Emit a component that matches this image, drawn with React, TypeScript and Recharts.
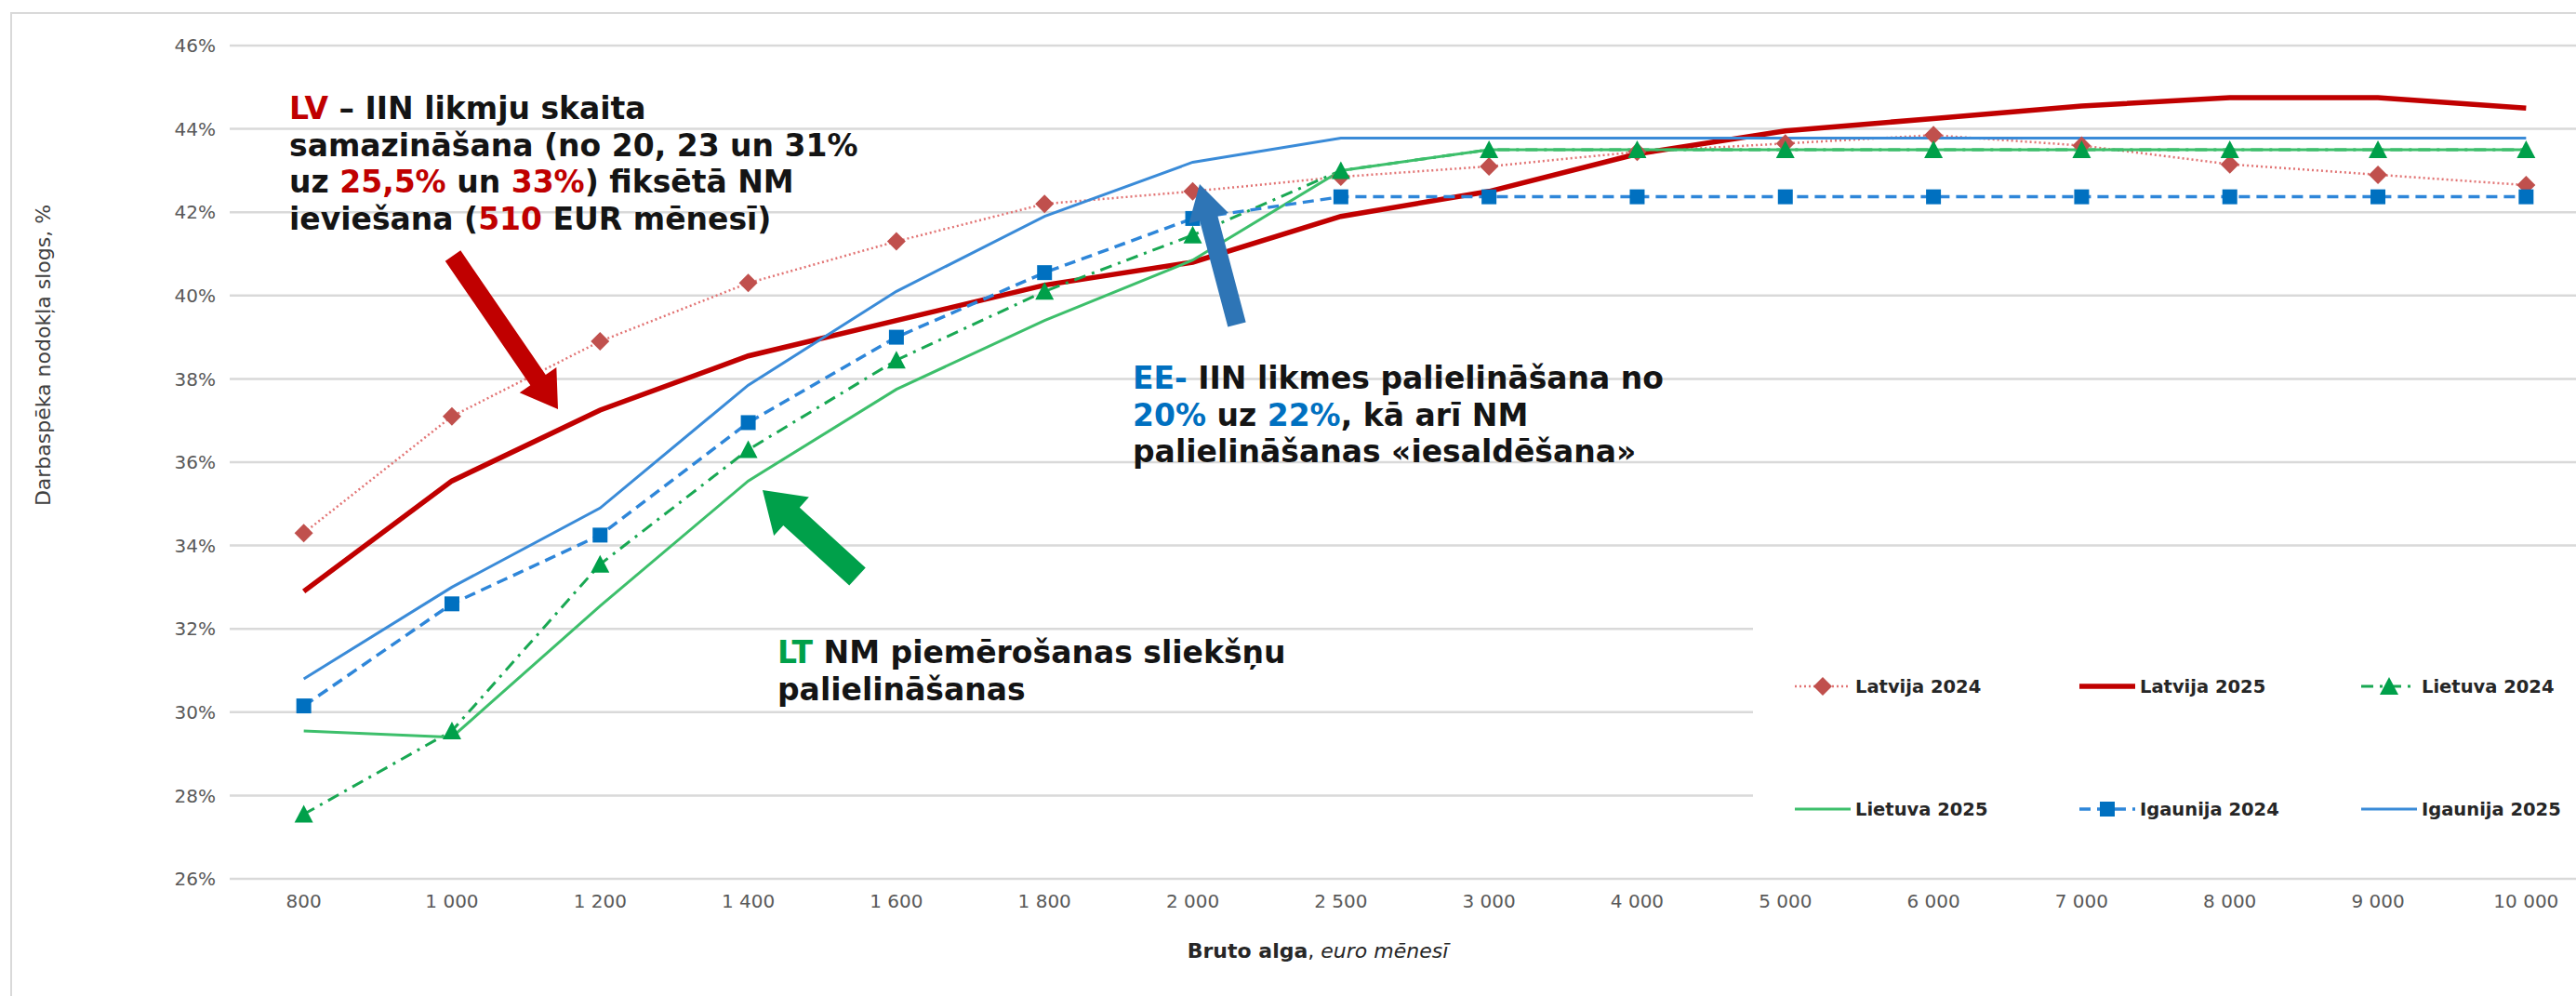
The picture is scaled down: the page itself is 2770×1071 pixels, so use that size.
import React from "react";
import { LineChart, Line, XAxis, YAxis, CartesianGrid, Legend } from "recharts";

const FONT = "'DejaVu Sans', Verdana, sans-serif";

// bruto alga, euro menesī
const categories = [
  "800", "1 000", "1 200", "1 400", "1 600", "1 800", "2 000", "2 500",
  "3 000", "4 000", "5 000", "6 000", "7 000", "8 000", "9 000", "10 000",
];

// darbaspēka nodokļa slogs, %
const latvija2024 = [34.3, 37.1, 38.9, 40.3, 41.3, 42.2, 42.5, 42.85, 43.1, 43.45, 43.65, 43.85, 43.6, 43.15, 42.9, 42.65];
const latvija2025 = [32.9, 35.55, 37.25, 38.55, 39.4, 40.25, 40.8, 41.9, 42.5, 43.4, 43.95, 44.25, 44.55, 44.75, 44.75, 44.5];
const lietuva2024 = [27.55, 29.55, 33.55, 36.3, 38.45, 40.1, 41.45, 43.0, 43.5, 43.5, 43.5, 43.5, 43.5, 43.5, 43.5, 43.5];
const lietuva2025 = [29.55, 29.4, 32.55, 35.55, 37.75, 39.4, 40.85, 43.0, 43.5, 43.5, 43.5, 43.5, 43.5, 43.5, 43.5, 43.5];
const igaunija2024 = [30.15, 32.6, 34.25, 36.95, 39.0, 40.55, 41.85, 42.37, 42.37, 42.37, 42.37, 42.37, 42.37, 42.37, 42.37, 42.37];
const igaunija2025 = [30.8, 33.0, 34.9, 37.85, 40.1, 41.9, 43.2, 43.78, 43.78, 43.78, 43.78, 43.78, 43.78, 43.78, 43.78, 43.78];

const yTicks = [26, 28, 30, 32, 34, 36, 38, 40, 42, 44, 46];

const data = categories.map((alga, i) => ({
  alga,
  lv24: latvija2024[i],
  lv25: latvija2025[i],
  lt24: lietuva2024[i],
  lt25: lietuva2025[i],
  ee24: igaunija2024[i],
  ee25: igaunija2025[i],
}));

type Marker = "diamond" | "triangle" | "square" | null;

const series: { key: string; name: string; stroke: string; width: number; dash?: string; marker: Marker; markerColor?: string }[] = [
  { key: "lv24", name: "Latvija 2024", stroke: "#E27474", width: 2.5, dash: "2 3", marker: "diamond", markerColor: "#C0504D" },
  { key: "lv25", name: "Latvija 2025", stroke: "#C00000", width: 5.5, marker: null },
  { key: "lt24", name: "Lietuva 2024", stroke: "#19A853", width: 3, dash: "13 7 3 7", marker: "triangle", markerColor: "#00A04A" },
  { key: "lt25", name: "Lietuva 2025", stroke: "#3DBF6B", width: 3, marker: null },
  { key: "ee24", name: "Igaunija 2024", stroke: "#2E86D9", width: 3.5, dash: "12 7", marker: "square", markerColor: "#0070C0" },
  { key: "ee25", name: "Igaunija 2025", stroke: "#3A8BD8", width: 3, marker: null },
];

function shapePath(shape: Marker, cx: number, cy: number) {
  if (shape === "diamond") return `M${cx},${cy - 10}L${cx + 10},${cy}L${cx},${cy + 10}L${cx - 10},${cy}Z`;
  if (shape === "triangle") return `M${cx},${cy - 10}L${cx + 10},${cy + 9}L${cx - 10},${cy + 9}Z`;
  if (shape === "square") return `M${cx - 8},${cy - 8}h16v16h-16Z`;
  return "";
}

function makeDot(shape: Marker, color: string) {
  return (p: any) => <path key={`dot-${p.index}`} d={shapePath(shape, p.cx, p.cy)} fill={color} />;
}

function LegendIcon({ s }: { s: (typeof series)[number] }) {
  return (
    <svg width={60} height={24}>
      <line x1={0} y1={12} x2={60} y2={12} stroke={s.stroke} strokeWidth={s.width} strokeDasharray={s.dash} />
      {s.marker && <path d={shapePath(s.marker, 30, 12)} fill={s.markerColor} />}
    </svg>
  );
}

function LegendBox() {
  const rows = [118, 250];
  const cols = [45, 351, 654];
  return (
    <div style={{ position: "relative", width: 900, height: 310, background: "#fff" }}>
      {series.map((s, i) => (
        <div
          key={s.key}
          style={{
            position: "absolute",
            left: cols[i % 3],
            top: rows[Math.floor(i / 3)] - 12,
            display: "flex",
            alignItems: "center",
            height: 24,
          }}
        >
          <LegendIcon s={s} />
          <span style={{ marginLeft: 5, fontFamily: FONT, fontWeight: 700, fontSize: 19.5, color: "#262626", whiteSpace: "nowrap" }}>
            {s.name}
          </span>
        </div>
      ))}
    </div>
  );
}

function arrow(tx: number, ty: number, px: number, py: number, w: number, hw: number, hl: number) {
  const dx = px - tx, dy = py - ty;
  const L = Math.hypot(dx, dy);
  const ux = dx / L, uy = dy / L;
  const nx = -uy, ny = ux;
  const bx = px - ux * hl, by = py - uy * hl;
  const pts = [
    [tx + (nx * w) / 2, ty + (ny * w) / 2],
    [bx + (nx * w) / 2, by + (ny * w) / 2],
    [bx + (nx * hw) / 2, by + (ny * hw) / 2],
    [px, py],
    [bx - (nx * hw) / 2, by - (ny * hw) / 2],
    [bx - (nx * w) / 2, by - (ny * w) / 2],
    [tx - (nx * w) / 2, ty - (ny * w) / 2],
  ];
  return pts.map((p) => p.join(",")).join(" ");
}

const RED = "#C00000";
const BLUE = "#0070C0";
const GREEN = "#00A04A";

const noteStyle: React.CSSProperties = {
  position: "absolute",
  fontFamily: FONT,
  fontWeight: 700,
  fontSize: 33,
  lineHeight: "39.5px",
  color: "#141414",
  whiteSpace: "nowrap",
};

export default function App() {
  return (
    <div style={{ position: "absolute", left: 0, top: 0, width: 2770, height: 1071, overflow: "hidden", background: "#fff" }}>
      <div style={{ position: "absolute", left: 11, top: 13, width: 3000, height: 2000, borderTop: "2px solid #D9D9D9", borderLeft: "2px solid #D9D9D9" }} />
      <div style={{ position: "absolute", left: 0, top: 0 }}>
        <LineChart width={2806} height={1071} data={data} margin={{ top: 49, right: 10, bottom: 66, left: 0 }}>
          <CartesianGrid vertical={false} stroke="#D9D9D9" strokeWidth={2.5} />
          <XAxis
            dataKey="alga"
            height={60}
            interval={0}
            padding={{ left: 79.65, right: 79.65 }}
            axisLine={false}
            tickLine={false}
            tickSize={0}
            tickMargin={17}
            tick={{ fontFamily: FONT, fontSize: 20, fill: "#595959" }}
          />
          <YAxis
            width={247}
            domain={[26, 46]}
            ticks={yTicks}
            tickFormatter={(v) => `${v}%`}
            axisLine={false}
            tickLine={false}
            tickSize={0}
            tickMargin={15}
            tick={{ fontFamily: FONT, fontSize: 20, fill: "#595959" }}
          />
          <Legend
            layout="horizontal"
            verticalAlign="middle"
            align="center"
            wrapperStyle={{ left: 1885, top: 620, width: 900, height: 310 }}
            content={() => <LegendBox />}
          />
          {series.map((s) => (
            <Line
              key={s.key}
              type="linear"
              dataKey={s.key}
              name={s.name}
              stroke={s.stroke}
              strokeWidth={s.width}
              strokeDasharray={s.dash}
              dot={s.marker ? makeDot(s.marker, s.markerColor as string) : false}
              activeDot={false}
              isAnimationActive={false}
            />
          ))}
        </LineChart>
      </div>

      <svg width={2770} height={1071} style={{ position: "absolute", left: 0, top: 0, pointerEvents: "none" }}>
        <polygon points={arrow(487, 275, 600, 440, 20, 48, 38)} fill={RED} />
        <polygon points={arrow(1330, 349, 1290, 198, 20, 44, 38)} fill="#2E75B6" />
        <polygon points={arrow(922, 620, 820, 527, 26, 56, 42)} fill={GREEN} />
        <text
          x={46}
          y={382}
          transform="rotate(-90 46 382)"
          textAnchor="middle"
          dominantBaseline="central"
          fontFamily={FONT}
          fontSize={22}
          fill="#404040"
        >
          Darbaspēka nodokļa slogs, %
        </text>
        <text x={1417} y={1022} textAnchor="middle" dominantBaseline="central" fontFamily={FONT} fontSize={22} fill="#262626">
          <tspan fontWeight={700}>Bruto alga</tspan>
          <tspan>, </tspan>
          <tspan fontStyle="italic">euro mēnesī</tspan>
        </text>
      </svg>

      <div style={{ ...noteStyle, left: 311, top: 97 }}>
        <div><span style={{ color: RED }}>LV</span> – IIN likmju skaita</div>
        <div>samazināšana (no 20, 23 un 31%</div>
        <div>uz <span style={{ color: RED }}>25,5%</span> un <span style={{ color: RED }}>33%</span>) fiksētā NM</div>
        <div>ieviešana (<span style={{ color: RED }}>510</span> EUR mēnesī)</div>
      </div>

      <div style={{ ...noteStyle, left: 1218, top: 387 }}>
        <div><span style={{ color: BLUE }}>EE-</span> IIN likmes palielināšana no</div>
        <div><span style={{ color: BLUE }}>20%</span> uz <span style={{ color: BLUE }}>22%</span>, kā arī NM</div>
        <div>palielināšanas «iesaldēšana»</div>
      </div>

      <div style={{ ...noteStyle, left: 836, top: 682 }}>
        <div><span style={{ color: GREEN }}>LT</span> NM piemērošanas sliekšņu</div>
        <div>palielināšanas</div>
      </div>
    </div>
  );
}
